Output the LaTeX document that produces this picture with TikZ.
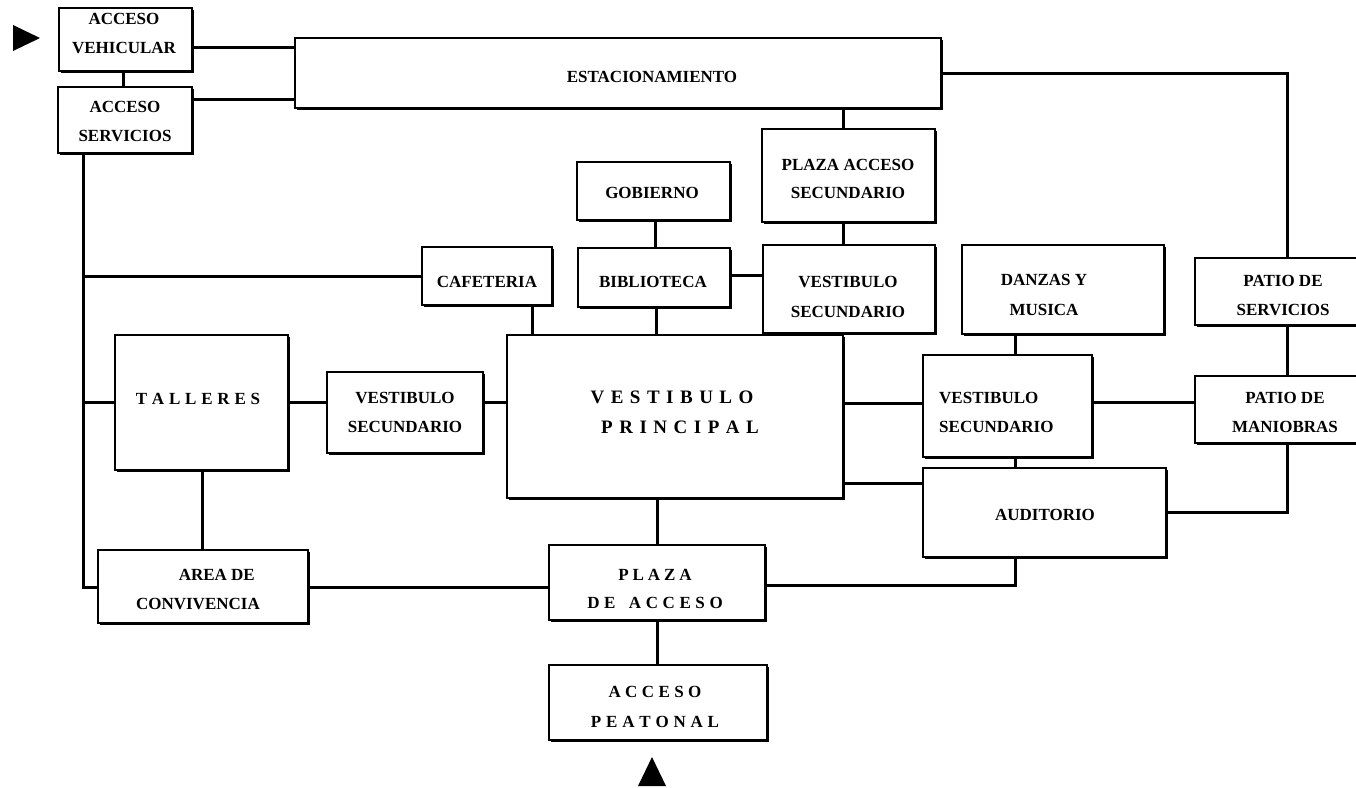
\documentclass[tikz,border=0pt]{standalone}
\usepackage{fontspec}
\setmainfont{Liberation Serif}
\usetikzlibrary{shadows}
\newcommand\lblfont{\fontsize{17}{29}\selectfont\bfseries}
\newcommand\vpfont{\fontsize{19}{30}\selectfont\bfseries}
\def\lspk{0pt}
\newcommand\lsp[2]{\def\lspk{#1}\lspA#2\relax}
\def\lspA#1{\ifx#1\relax\else #1\expandafter\lspB\fi}
\def\lspB#1{\ifx#1\relax\else\kern\lspk #1\expandafter\lspB\fi}
\tikzset{
  box/.style={draw=black, line width=1.9pt, fill=white, inner sep=0pt,
    drop shadow={shadow xshift=1.6pt, shadow yshift=-1.6pt, opacity=1, fill=black}},
  lbl/.style={font=\lblfont, align=center, inner sep=0pt},
  conn/.style={draw=black, line width=3pt},
}
\newcommand\bx[5]{\node[box, minimum width={#4pt-#2pt}, minimum height={#5pt-#3pt}] (#1) at ({(#2+#4)/2},{(#3+#5)/2}) {};}
\begin{document}
\begin{tikzpicture}[x=1pt, y=-1pt]
\fill[white] (0,0) rectangle (1356,787);
\useasboundingbox (0,0) rectangle (1356,787);

% boxes
\bx{veh}{59}{8}{192}{71}
\bx{serv}{58}{87}{192}{153}
\bx{estac}{295}{38}{941}{108}
\bx{pas}{762}{129}{935}{222}
\bx{gob}{577}{162}{730}{220}
\bx{bib}{578}{248}{730}{307}
\bx{caf}{422}{247}{552}{305}
\bx{vst}{763}{245}{935}{333}
\bx{dan}{962}{245}{1164}{334}
\bx{pser}{1195}{258}{1362}{325}
\bx{tal}{115}{335}{288}{470}
\bx{vsl}{327}{372}{483}{453}
\bx{vp}{507}{335}{843}{498}
\bx{vsr}{923}{355}{1092}{457}
\bx{pman}{1195}{376}{1362}{443}
\bx{aud}{923}{468}{1166}{557}
\bx{area}{98}{550}{308}{623}
\bx{plaza}{549}{545}{765}{620}
\bx{peat}{549}{665}{767}{740}

% labels
\node[lbl] (t-veh) at (124,33.5) {ACCESO\\VEHICULAR};
\node[lbl] (t-serv) at (125,121.5) {ACCESO\\SERVICIOS};
\node[lbl] (t-estac) at (652,77) {ESTACIONAMIENTO};
\node[lbl, font=\fontsize{17}{28}\selectfont\bfseries] (t-pas) at (848,179) {PLAZA ACCESO\\SECUNDARIO};
\node[lbl] (t-gob) at (652,193) {GOBIERNO};
\node[lbl] (t-bib) at (653,282) {BIBLIOTECA};
\node[lbl] (t-caf) at (487,282) {CAFETERIA};
\node[lbl, font=\fontsize{17}{30}\selectfont\bfseries] (t-vst) at (848,297) {VESTIBULO\\SECUNDARIO};
\node[lbl, font=\fontsize{17}{30}\selectfont\bfseries] (t-dan) at (1044,295) {DANZAS Y\\MUSICA};
\node[lbl] (t-pser) at (1283,295) {PATIO DE\\SERVICIOS};
\node[lbl] (t-tal) at (198,399) {\lsp{4.8pt}{TALLERES}};
\node[lbl] (t-vsl) at (405,412.5) {VESTIBULO\\SECUNDARIO};
\node[lbl, font=\vpfont] (t-vp) at (676,412) {\lsp{6.5pt}{VESTIBULO}\hspace*{8pt}\\\hspace*{8pt}\lsp{6.5pt}{PRINCIPAL}};
\node[lbl, align=left, anchor=west] (t-vsr) at (939,412) {VESTIBULO\\SECUNDARIO};
\node[lbl] (t-pman) at (1285,412.5) {PATIO DE\\MANIOBRAS};
\node[lbl] (t-aud) at (1045,515) {AUDITORIO};
\node[lbl, align=right, anchor=east] (t-area) at (260,589.5) {AREA DE\kern5pt\\CONVIVENCIA};
\node[lbl, font=\fontsize{17}{28}\selectfont\bfseries] (t-plaza) at (655,589) {\lsp{3.9pt}{PLAZA}\\\lsp{4.6pt}{DE~ACCESO}};
\node[lbl, font=\fontsize{17}{30}\selectfont\bfseries] (t-peat) at (655,707) {\lsp{4.4pt}{ACCESO}\\\lsp{4.8pt}{PEATONAL}};

% connectors
\coordinate (trunk) at (83,0);
\draw[conn] (veh.south -| 123,0) -- (serv.north -| 123,0);
\draw[conn] (veh.east |- 0,47) -- (estac.west |- 0,47);
\draw[conn] (serv.east |- 0,99) -- (estac.west |- 0,99);
\draw[conn] (serv.south -| trunk) |- (area.west |- 0,587);
\draw[conn] (trunk |- caf.west) -- (caf.west);
\draw[conn] (trunk |- tal.west) -- (tal.west);
\draw[conn] (tal.east |- 0,402) -- (vsl.west |- 0,402);
\draw[conn] (vsl.east |- 0,402) -- (vp.west |- 0,402);
\draw[conn] (tal.south -| 202,0) -- (area.north -| 202,0);
\draw[conn] (area.east |- 0,587) -- (plaza.west |- 0,587);
\draw[conn] (caf.south -| 532,0) -- (vp.north -| 532,0);
\draw[conn] (gob.south -| 655,0) -- (bib.north -| 655,0);
\draw[conn] (bib.south -| 656,0) -- (vp.north -| 656,0);
\draw[conn] (bib.east |- 0,275) -- (vst.west |- 0,275);
\draw[conn] (estac.south -| 843,0) -- (pas.north -| 843,0);
\draw[conn] (pas.south -| 843,0) -- (vst.north -| 843,0);
\draw[conn] (estac.east |- 0,73) -| (pser.north -| 1287,0);
\draw[conn] (pser.south -| 1287,0) -- (pman.north -| 1287,0);
\draw[conn] (pman.south -| 1287,0) |- (aud.east |- 0,512);
\draw[conn] (dan.south -| 1015,0) -- (vsr.north -| 1015,0);
\draw[conn] (vsr.south -| 1015,0) -- (aud.north -| 1015,0);
\draw[conn] (vp.east |- 0,403) -- (vsr.west |- 0,403);
\draw[conn] (vp.east |- 0,483) -- (aud.west |- 0,483);
\draw[conn] (vsr.east |- 0,402) -- (pman.west |- 0,402);
\draw[conn] (aud.south -| 1015,0) |- (plaza.east |- 0,585);
\draw[conn] (vp.south -| 657,0) -- (plaza.north -| 657,0);
\draw[conn] (plaza.south -| 657,0) -- (peat.north -| 657,0);

% entrance arrows
\fill[black] (13,25) -- (40,38) -- (13,51) -- cycle;
\fill[black] (638,786) -- (652,757) -- (666,786) -- cycle;
\end{tikzpicture}
\end{document}
